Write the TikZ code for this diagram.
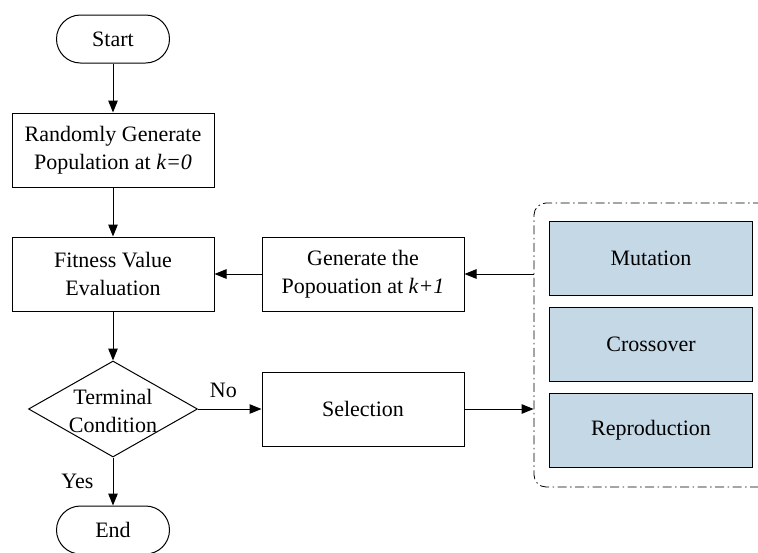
\documentclass[tikz,border=0pt]{standalone}
\usepackage{fontspec}
\setmainfont{Liberation Serif}
\usetikzlibrary{shapes.geometric,arrows.meta}
\definecolor{opblue}{RGB}{197,216,230}
\begin{document}
\begin{tikzpicture}[x=1pt,y=-1pt,
  every node/.style={font=\fontsize{22}{28}\selectfont, inner sep=0pt, align=center},
  proc/.style={draw, line width=1pt, minimum width=202pt, minimum height=74pt},
  term/.style={draw, line width=1pt, rounded corners=24pt, minimum width=113pt, minimum height=48pt},
  opbox/.style={proc, fill=opblue, minimum width=203pt},
  decide/.style={draw, line width=1pt, diamond, aspect=1.76, minimum width=169pt, minimum height=96pt},
  flow/.style={-{Triangle[length=12pt,width=9.5pt]}, line width=1pt},
  link/.style={line width=1pt}]
\useasboundingbox (0,0) rectangle (758,552);
\clip (0,0) rectangle (758,552);

% main column
\node[term] (start) at (113,39) {Start};
\node[proc] (init) at (113,150) {Randomly Generate\\Population at \textit{k=0}};
\node[proc] (fit) at (113,274) {Fitness Value\\Evaluation};
\node[decide, label={[yshift=-2pt]center:{Terminal\\Condition}}] (cond) at (113,409) {};
\node[term] (stop) at (113,530) {End};

% middle column
\node[proc] (gen) at (363,274) {Generate the\\Popouation at \textit{k+1}};
\node[proc] (sel) at (363,409) {Selection};

% genetic operators group
\node[draw, line width=0.8pt, rounded corners=12pt,
      dash pattern=on 9pt off 3.5pt on 1.5pt off 3.5pt,
      minimum width=240pt, minimum height=284pt] (ops) at (654,345) {};
\node[opbox] (mut) at (651,258) {Mutation};
\node[opbox] (cross) at (651,344) {Crossover};
\node[opbox] (repro) at (651,430) {Reproduction};

% connectors
\draw[flow] (start) -- (init);
\draw[flow] (init) -- (fit);
\draw[flow] (fit) -- (cond);
\draw[flow] (cond) -- node[pos=0.5, left=19pt] (yes) {Yes} (stop);
\draw[flow] (cond) -- node[pos=0.4, above=11pt] (no) {No} (sel);
\draw[flow] (sel) -- (sel -| ops.west);
\draw[flow] (ops.west |- gen) -- (gen);
\draw[flow] (gen) -- (fit);
\end{tikzpicture}
\end{document}
